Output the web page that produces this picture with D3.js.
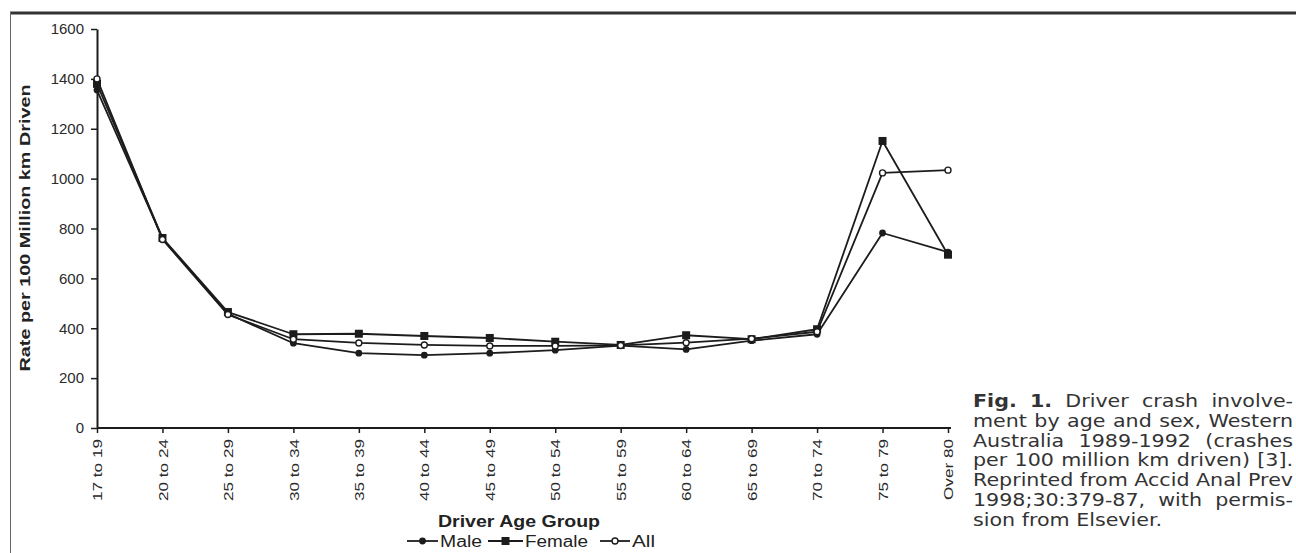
<!DOCTYPE html>
<html>
<head>
<meta charset="utf-8">
<script src="https://cdn.jsdelivr.net/npm/d3@7"></script>
<style>
  html, body { margin: 0; padding: 0; background: #fff; }
  svg { display: block; }
</style>
</head>
<body>
<svg id="chart" width="1296" height="553"></svg>
<script>
// ---- data ----
const categories = ["17 to 19","20 to 24","25 to 29","30 to 34","35 to 39","40 to 44","45 to 49","50 to 54","55 to 59","60 to 64","65 to 69","70 to 74","75 to 79","Over 80"];
const maleValues   = [1355, 760, 458, 340, 300, 292, 300, 312, 330, 315, 350, 376, 782, 705];
const femaleValues = [1380, 762, 465, 376, 378, 369, 361, 346, 333, 372, 356, 396, 1151, 695];
const allValues    = [1400, 756, 455, 356, 341, 333, 329, 329, 331, 342, 358, 386, 1023, 1034];
const yTicks = [0, 200, 400, 600, 800, 1000, 1200, 1400, 1600];
const seriesNames = ["Male", "Female", "All"];
const captionLines = [
  [["Fig.", true], ["1.", true], ["Driver", false], ["crash", false], ["involve-", false]],
  [["ment"], ["by"], ["age"], ["and"], ["sex,"], ["Western"]],
  [["Australia"], ["1989-1992"], ["(crashes"]],
  [["per"], ["100"], ["million"], ["km"], ["driven)"], ["[3]."]],
  [["Reprinted"], ["from"], ["Accid"], ["Anal"], ["Prev"]],
  [["1998;30:379-87,"], ["with"], ["permis-"]],
  [["sion"], ["from"], ["Elsevier."]]
];

const svg = d3.select("#chart");
const ink = "#1c1c1c";

// frame
svg.append("line").attr("x1", 10).attr("x2", 1296).attr("y1", 13).attr("y2", 13)
  .attr("stroke", "#333").attr("stroke-width", 3);
svg.append("line").attr("x1", 10.5).attr("x2", 10.5).attr("y1", 12).attr("y2", 553)
  .attr("stroke", "#666").attr("stroke-width", 1);

// scales
const x = d3.scalePoint().domain(categories).range([97, 948]);
const y = d3.scaleLinear().domain([0, 1600]).range([428, 29]);

// y axis
const yAxis = svg.append("g").attr("transform", "translate(97,0)")
  .call(d3.axisLeft(y).tickValues(yTicks).tickFormat(d3.format("d"))
    .tickSize(6).tickSizeOuter(0).tickPadding(7));
yAxis.select(".domain").attr("stroke", ink).attr("stroke-width", 2);
yAxis.selectAll(".tick line").attr("stroke", ink).attr("stroke-width", 1.5);
yAxis.selectAll(".tick text").attr("font-family", "Liberation Sans, Arial, sans-serif")
  .attr("font-size", 15).attr("fill", "#2a2a2a");

// x axis
const xAxis = svg.append("g").attr("transform", "translate(0,428)")
  .call(d3.axisBottom(x).tickSize(5).tickSizeOuter(0));
xAxis.select(".domain").attr("stroke", ink).attr("stroke-width", 2.2)
  .attr("d", "M97,0H951");
xAxis.selectAll(".tick line").attr("stroke", ink).attr("stroke-width", 1.5);
xAxis.selectAll(".tick text")
  .attr("font-family", "Liberation Sans, Arial, sans-serif")
  .attr("font-size", 13).attr("fill", "#2a2a2a")
  .attr("text-anchor", "end")
  .attr("x", 0).attr("y", 0).attr("dy", "0.36em")
  .attr("transform", "translate(0,11) rotate(-90) scale(1.32,1)");

// axis titles
svg.append("text")
  .attr("transform", "translate(30,228) rotate(-90)")
  .attr("text-anchor", "middle")
  .attr("font-family", "Liberation Sans, Arial, sans-serif")
  .attr("font-weight", "bold").attr("font-size", 15).attr("fill", "#222")
  .attr("textLength", 287).attr("lengthAdjust", "spacingAndGlyphs")
  .text("Rate per 100 Million km Driven");

svg.append("text")
  .attr("x", 438).attr("y", 527)
  .attr("font-family", "Liberation Sans, Arial, sans-serif")
  .attr("font-weight", "bold").attr("font-size", 16).attr("fill", "#222")
  .attr("textLength", 162).attr("lengthAdjust", "spacingAndGlyphs")
  .text("Driver Age Group");

// series
const series = [
  { name: seriesNames[0], values: maleValues, marker: "circle" },
  { name: seriesNames[1], values: femaleValues, marker: "square" },
  { name: seriesNames[2], values: allValues, marker: "open" }
];
const line = d3.line().x((d, i) => x(categories[i])).y(d => y(d));

function drawMarker(g, cx, cy, type) {
  if (type === "circle") {
    g.append("circle").attr("cx", cx).attr("cy", cy).attr("r", 3.4).attr("fill", ink);
  } else if (type === "square") {
    g.append("rect").attr("x", cx - 4).attr("y", cy - 4).attr("width", 8).attr("height", 8).attr("fill", ink);
  } else {
    g.append("circle").attr("cx", cx).attr("cy", cy).attr("r", 3).attr("fill", "#fff")
      .attr("stroke", ink).attr("stroke-width", 1.4);
  }
}

const plot = svg.append("g");
series.forEach(s => {
  plot.append("path").datum(s.values).attr("d", line)
    .attr("fill", "none").attr("stroke", ink).attr("stroke-width", 1.8)
    .attr("stroke-linejoin", "round");
});
series.forEach(s => {
  const g = plot.append("g");
  s.values.forEach((v, i) => drawMarker(g, x(categories[i]), y(v), s.marker));
});

// legend
const legendItems = [
  { x1: 407, x2: 438, tx: 440, tw: 42 },
  { x1: 488, x2: 523, tx: 525, tw: 63 },
  { x1: 600, x2: 630, tx: 632, tw: 23 }
];
const legend = svg.append("g");
series.forEach((s, i) => {
  const li = legendItems[i];
  legend.append("line").attr("x1", li.x1).attr("x2", li.x2).attr("y1", 541).attr("y2", 541)
    .attr("stroke", ink).attr("stroke-width", 1.8);
  drawMarker(legend, (li.x1 + li.x2) / 2, 541, s.marker);
  legend.append("text").attr("x", li.tx).attr("y", 547)
    .attr("font-family", "Liberation Sans, Arial, sans-serif")
    .attr("font-size", 16).attr("fill", "#222")
    .attr("textLength", li.tw).attr("lengthAdjust", "spacingAndGlyphs")
    .text(s.name);
});

// caption (justified, glyphs widened so the "Reprinted" line sits at natural spacing)
const capFont = 16.8;
const capLeft = 973, capRight = 1293, capTop = 407, capLead = 19.8;
const spaceW = capFont * 0.318;
const cap = svg.append("g")
  .attr("font-family", "DejaVu Sans, sans-serif").attr("font-size", capFont).attr("fill", "#333");
const built = captionLines.map((words, li) => {
  const nodes = words.map(w => cap.append("text").attr("y", capTop + li * capLead)
    .attr("font-weight", w[1] ? "bold" : "normal").text(w[0]));
  const widths = nodes.map(n => n.node().getComputedTextLength());
  return { nodes, widths };
});
const ref = built[4];
const refNatural = d3.sum(ref.widths) + spaceW * (ref.widths.length - 1);
const sx = (capRight - capLeft) / refNatural;
cap.attr("transform", `translate(${capLeft},0) scale(${sx},1)`);
const localW = (capRight - capLeft) / sx;
built.forEach((b, li) => {
  const total = d3.sum(b.widths);
  const last = li === built.length - 1;
  const gap = last ? spaceW : (localW - total) / (b.nodes.length - 1);
  let cx = 0;
  b.nodes.forEach((n, i) => { n.attr("x", cx); cx += b.widths[i] + gap; });
});
</script>
</body>
</html>
